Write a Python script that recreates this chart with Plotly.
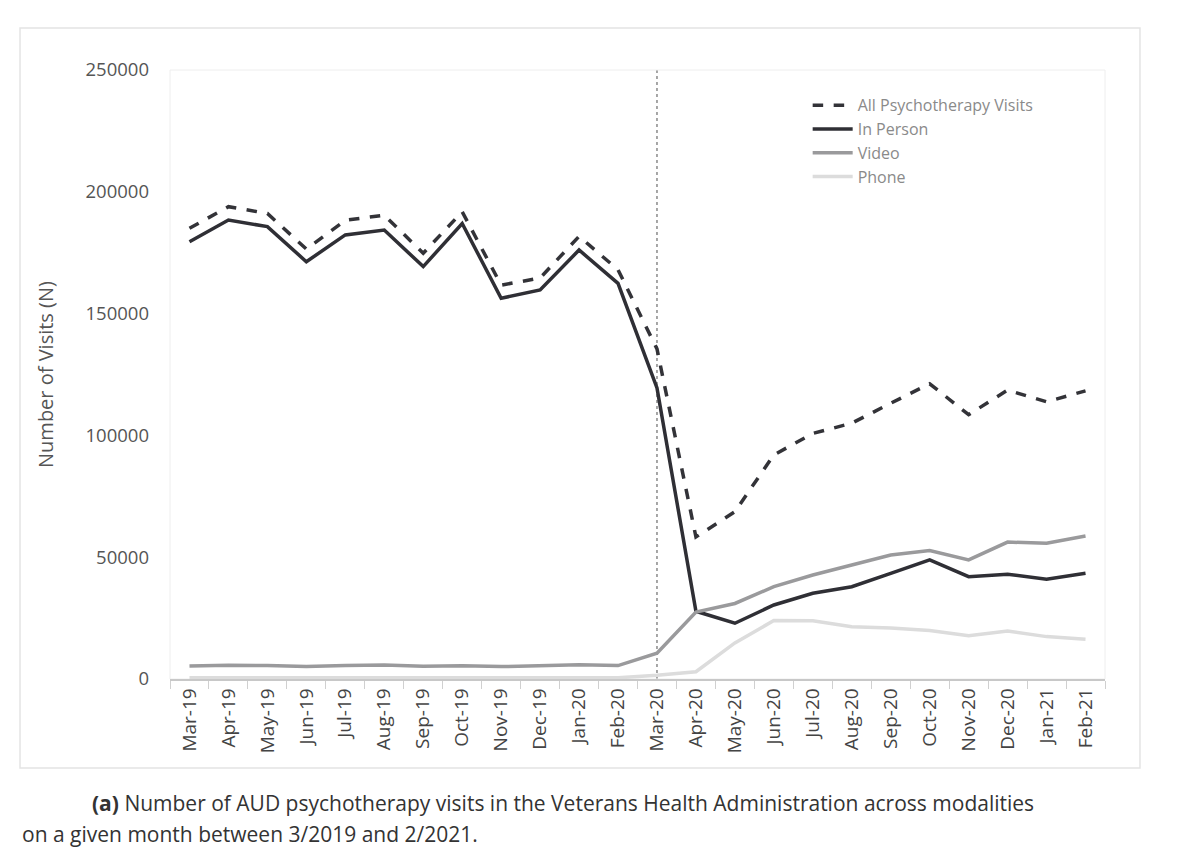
import plotly.graph_objects as go

months = ["Mar-19", "Apr-19", "May-19", "Jun-19", "Jul-19", "Aug-19", "Sep-19", "Oct-19",
          "Nov-19", "Dec-19", "Jan-20", "Feb-20", "Mar-20", "Apr-20", "May-20", "Jun-20",
          "Jul-20", "Aug-20", "Sep-20", "Oct-20", "Nov-20", "Dec-20", "Jan-21", "Feb-21"]

all_visits = [185000, 193900, 191100, 176500, 188300, 190400, 174800, 191800,
              161700, 164600, 181700, 168000, 135500, 58300, 68700, 92000,
              100800, 105000, 113200, 121200, 108500, 118600, 113800, 118300]

in_person = [179500, 188400, 185700, 171300, 182300, 184300, 169300, 187000,
             156300, 159700, 176100, 162400, 119500, 27800, 22900, 30400,
             35200, 37900, 43400, 48900, 42000, 43000, 41000, 43400]

video = [5300, 5600, 5500, 5100, 5500, 5700, 5200, 5400,
         5100, 5300, 5800, 5500, 10600, 27500, 31000, 37900,
         42700, 46800, 50900, 52700, 48900, 56200, 55700, 58700]

phone = [500, 500, 500, 400, 500, 500, 400, 500,
         400, 400, 500, 500, 1500, 3000, 14800, 24000,
         23900, 21500, 20900, 19900, 17800, 19700, 17400, 16300]

covid_month = "Mar-20"

y_ticks = [0, 50000, 100000, 150000, 200000, 250000]

fig = go.Figure()
fig.add_trace(go.Scatter(x=months, y=all_visits, mode="lines", name="All Psychotherapy Visits",
                         line=dict(color="#333338", width=3.5, dash="dash")))
fig.add_trace(go.Scatter(x=months, y=in_person, mode="lines", name="In Person",
                         line=dict(color="#2f2f35", width=3.5)))
fig.add_trace(go.Scatter(x=months, y=video, mode="lines", name="Video",
                         line=dict(color="#9a9a9c", width=3.5)))
fig.add_trace(go.Scatter(x=months, y=phone, mode="lines", name="Phone",
                         line=dict(color="#dcdcdc", width=3.5)))

# vertical dashed marker at March 2020
fig.add_shape(type="line", xref="x", yref="paper", x0=covid_month, x1=covid_month, y0=0, y1=1,
              line=dict(color="#8a8a8a", width=1.5, dash="dot"), layer="below")
# plot-area faint border
fig.add_shape(type="rect", xref="paper", yref="paper", x0=0, x1=1, y0=0, y1=1,
              line=dict(color="#eeeeee", width=1), layer="below")
# outer figure border
fig.add_shape(type="rect", xref="paper", yref="paper", x0=-0.1604, x1=1.0374, y0=-0.146, y1=1.069,
              line=dict(color="#e4e4e4", width=1.5), layer="below")

fig.add_annotation(xref="paper", yref="paper", x=(90 - 170) / 935, y=(679 - 803) / 609,
                   xanchor="left", yanchor="middle", showarrow=False,
                   text="<b>(a)</b> Number of AUD psychotherapy visits in the Veterans Health Administration across modalities",
                   font=dict(family="Open Sans", size=21, color="#333333"))
fig.add_annotation(xref="paper", yref="paper", x=(20 - 170) / 935, y=(679 - 834) / 609,
                   xanchor="left", yanchor="middle", showarrow=False,
                   text="on a given month between 3/2019 and 2/2021.",
                   font=dict(family="Open Sans", size=21, color="#333333"))

fig.update_layout(
    width=1200, height=861,
    margin=dict(l=170, r=95, t=70, b=182),
    paper_bgcolor="white", plot_bgcolor="white",
    font=dict(family="Open Sans", color="#555555"),
    showlegend=True,
    legend=dict(x=0.682, y=0.970, xanchor="left", yanchor="top",
                bgcolor="rgba(0,0,0,0)", font=dict(size=16, color="#8a8a8a"),
                tracegroupgap=0, itemwidth=40),
    xaxis=dict(type="category", range=[-0.5, 23.5], showgrid=False,
               showline=True, linecolor="#c8c8c8", linewidth=1.5,
               ticks="outside", tickson="boundaries", ticklen=8, tickcolor="#d0d0d0",
               tickangle=-90, tickfont=dict(size=19, color="#444444")),
    yaxis=dict(range=[0, 250000], tickvals=y_ticks, ticktext=[str(v) for v in y_ticks],
               showgrid=False, showline=False, zeroline=False, ticks="",
               ticklabelstandoff=20, tickfont=dict(size=18.5, color="#555555"),
               title=dict(text="Number of Visits (N)", font=dict(size=20, color="#555555"), standoff=26)),
)

fig.write_html("out.html")
